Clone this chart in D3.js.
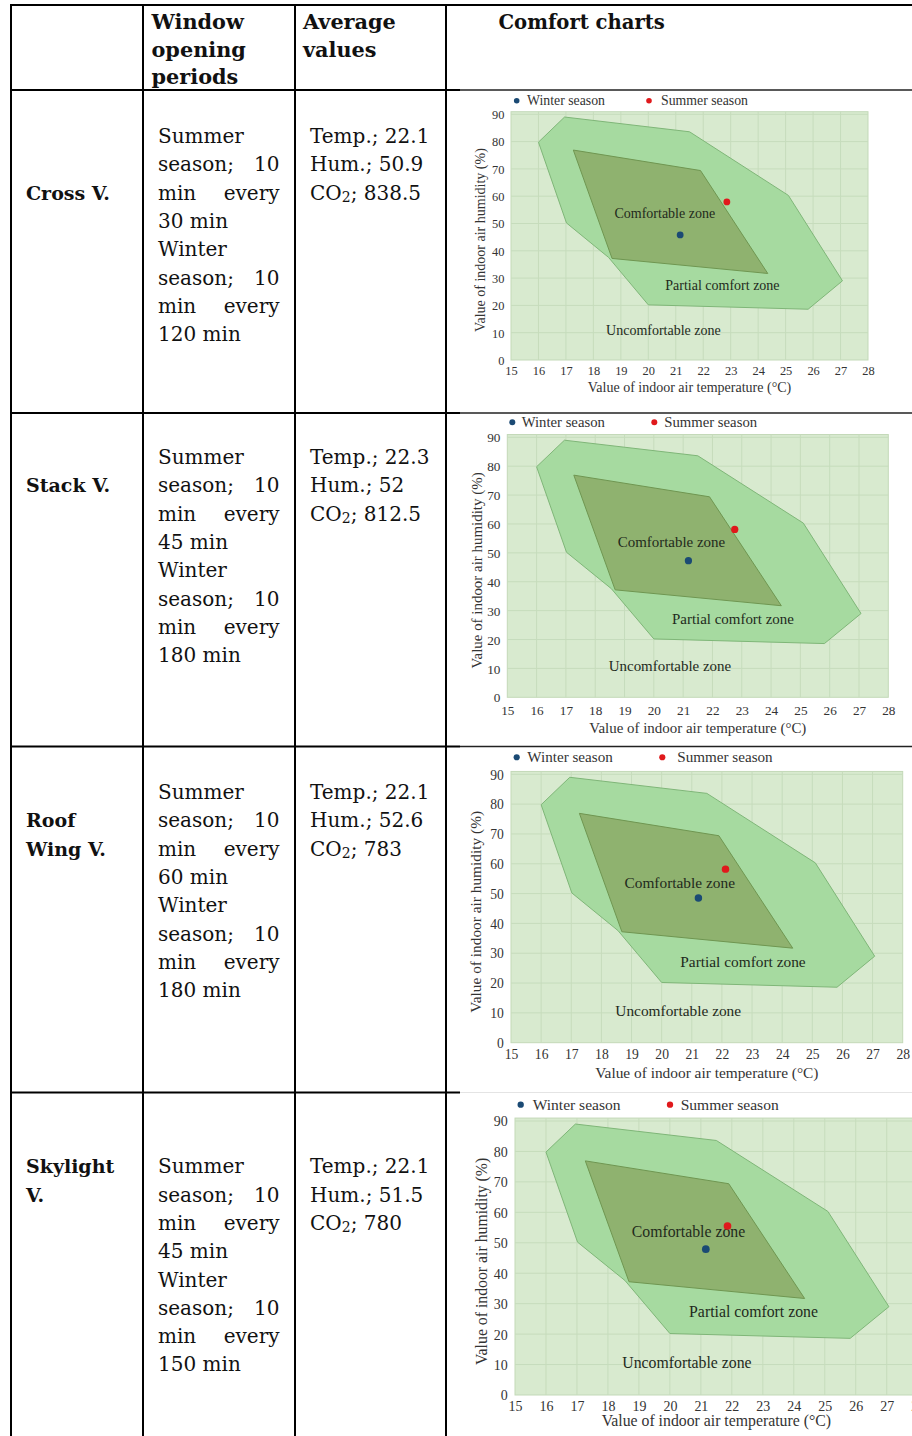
<!DOCTYPE html>
<html>
<head>
<meta charset="utf-8">
<script src="https://cdn.jsdelivr.net/npm/d3@7"></script>
<style>
  body { margin: 0; background: #fff; }
  svg { display: block; }
</style>
</head>
<body>
<svg id="page" width="912" height="1436"></svg>
<script>
// table content
const headers = [["Window", "opening", "periods"], ["Average", "values"], ["Comfort charts"]];
const systems = [["Cross V."], ["Stack V."], ["Roof", "Wing V."], ["Skylight", "V."]];
const openMinutes = [10, 10, 10, 10];
const summerEvery = [30, 45, 60, 45];
const winterEvery = [120, 180, 180, 150];
const avgTemp = ["22.1", "22.3", "22.1", "22.1"];
const avgHum = ["50.9", "52", "52.6", "51.5"];
const avgCO2 = ["838.5", "812.5", "783", "780"];

// comfort chart content (temperature °C, humidity %)
const winterPoints = [[21.16, 45.8], [21.18, 47.3], [21.22, 48.5], [21.16, 47.9]];
const summerPoints = [[22.86, 57.9], [22.76, 58.1], [22.12, 58.2], [21.86, 55.5]];
const partialZone = [[16, 79.8], [16.95, 89], [21.5, 83.6], [25.1, 60.3], [27.07, 29], [25.82, 18.6], [20, 20.2], [18.55, 37.6], [17.02, 50.2]];
const comfortZone = [[17.27, 76.9], [21.9, 69.4], [24.35, 31.7], [18.68, 37.2]];
const zoneLabels = ["Comfortable zone", "Partial comfort zone", "Uncomfortable zone"];
const zoneLabelAt = [[20.6, 52], [22.7, 25.5], [20.55, 9]];
const xTicks = [15, 16, 17, 18, 19, 20, 21, 22, 23, 24, 25, 26, 27, 28];
const yTicks = [0, 10, 20, 30, 40, 50, 60, 70, 80, 90];

const svg = d3.select('#page');
const tableFont = '"DejaVu Serif", serif';
const chartFont = '"Liberation Serif", "Times New Roman", serif';

// ---------- table grid ----------
const colX = [11, 143, 295, 446];
const rowY = [5, 90, 413, 746.5, 1092.5];
const lineH = 28.3;

const grid = svg.append('g').attr('stroke', '#000');
colX.forEach(x => grid.append('line')
  .attr('x1', x).attr('x2', x).attr('y1', 4).attr('y2', 1436)
  .attr('stroke-width', 2));
rowY.forEach((y, i) => {
  grid.append('line')
    .attr('x1', 10).attr('x2', i === 0 ? 912 : 460).attr('y1', y).attr('y2', y)
    .attr('stroke-width', 2);
  if (i > 0) {
    grid.append('line')
      .attr('x1', 460).attr('x2', 912).attr('y1', y).attr('y2', y)
      .attr('stroke', i === 4 ? '#e4e4e4' : '#222')
      .attr('stroke-width', i === 4 ? 1 : 1.3);
  }
});

// ---------- header ----------
const headX = [151.5, 303, 498.5];
const headSize = [20.8, 20.8, 19.6];
headers.forEach((lines, c) => {
  lines.forEach((t, j) => {
    svg.append('text')
      .attr('x', headX[c]).attr('y', 29 + j * 27.5)
      .attr('font-family', tableFont).attr('font-weight', 'bold')
      .attr('font-size', headSize[c]).attr('fill', '#111')
      .text(t);
  });
});

// ---------- body rows ----------
const firstBase = [143, 464, 799, 1173.3];
const labelLine = [2, 1, 1, 0];
const c2Left = 158, c2Right = 279.5, c3Left = 310;

systems.forEach((lines, r) => {
  lines.forEach((t, j) => {
    svg.append('text')
      .attr('x', 26).attr('y', firstBase[r] + (labelLine[r] + j) * lineH)
      .attr('font-family', tableFont).attr('font-weight', 'bold')
      .attr('font-size', 19).attr('fill', '#111')
      .text(t);
  });

  const periodLines = [
    ['Summer'], ['season;', String(openMinutes[r])], ['min', 'every'], [summerEvery[r] + ' min'],
    ['Winter'], ['season;', String(openMinutes[r])], ['min', 'every'], [winterEvery[r] + ' min']
  ];
  periodLines.forEach((words, j) => {
    const y = firstBase[r] + j * lineH;
    svg.append('text')
      .attr('x', c2Left).attr('y', y)
      .attr('font-family', tableFont).attr('font-size', 20).attr('fill', '#111')
      .text(words[0]);
    if (words.length > 1) {
      svg.append('text')
        .attr('x', c2Right).attr('y', y).attr('text-anchor', 'end')
        .attr('font-family', tableFont).attr('font-size', 20).attr('fill', '#111')
        .text(words[1]);
    }
  });

  const avg = svg.append('g')
    .attr('font-family', tableFont).attr('font-size', 20).attr('fill', '#111');
  avg.append('text').attr('x', c3Left).attr('y', firstBase[r]).text('Temp.; ' + avgTemp[r]);
  avg.append('text').attr('x', c3Left).attr('y', firstBase[r] + lineH).text('Hum.; ' + avgHum[r]);
  const co = avg.append('text').attr('x', c3Left).attr('y', firstBase[r] + 2 * lineH);
  co.append('tspan').text('CO');
  co.append('tspan').attr('font-size', 14).attr('dy', 2).text('2');
  co.append('tspan').attr('dy', -2).text('; ' + avgCO2[r]);
});

// ---------- comfort charts ----------
const frames = [
  { x0: 511, x1: 868, yTop: 114.3, yBot: 360, legY: 100.7, wDot: 516.7, wText: 527, sDot: 649, sText: 661, tickDy: 15, titleDy: 31.7, yTitleX: 480 },
  { x0: 507.3, x1: 888.3, yTop: 437.3, yBot: 697.3, legY: 422.3, wDot: 512.3, wText: 521.7, sDot: 654.3, sText: 664.3, tickDy: 17.7, titleDy: 36, yTitleX: 476.7 },
  { x0: 511, x1: 902.7, yTop: 774.3, yBot: 1042.7, legY: 757.3, wDot: 516.7, wText: 527.3, sDot: 662.3, sText: 677.3, tickDy: 16.7, titleDy: 35.7, yTitleX: 475 },
  { x0: 515, x1: 917.7, yTop: 1121, yBot: 1395, legY: 1104.7, wDot: 520.7, wText: 532.7, sDot: 670, sText: 680.7, tickDy: 16, titleDy: 30.5, yTitleX: 481.7 }
];

frames.forEach((f, i) => {
  const s = (f.x1 - f.x0) / 357;
  const x = d3.scaleLinear().domain([15, 28]).range([f.x0, f.x1]);
  const y = d3.scaleLinear().domain([0, 90]).range([f.yBot, f.yTop]);
  const g = svg.append('g').attr('font-family', chartFont);

  // plot background
  g.append('rect')
    .attr('x', x(15)).attr('y', y(90) - 2.6 * s)
    .attr('width', x(28) - x(15)).attr('height', y(0) - y(90) + 2.6 * s)
    .attr('fill', '#d8eacf').attr('stroke', '#c3d9b8').attr('stroke-width', 1);

  // gridlines
  g.append('g').selectAll('line').data(xTicks.slice(1, -1)).join('line')
    .attr('x1', d => x(d)).attr('x2', d => x(d))
    .attr('y1', y(90) - 2.6 * s).attr('y2', y(0))
    .attr('stroke', '#c6dcbc').attr('stroke-width', 1);
  g.append('g').selectAll('line').data(yTicks.slice(1)).join('line')
    .attr('x1', x(15)).attr('x2', x(28))
    .attr('y1', d => y(d)).attr('y2', d => y(d))
    .attr('stroke', '#c6dcbc').attr('stroke-width', 1);

  const area = d3.line().x(d => x(d[0])).y(d => y(d[1])).curve(d3.curveLinearClosed);
  g.append('path').attr('d', area(partialZone))
    .attr('fill', '#a6daa0').attr('stroke', '#7fb678').attr('stroke-width', 1);
  g.append('path').attr('d', area(comfortZone))
    .attr('fill', '#8fb26f').attr('stroke', '#6f9651').attr('stroke-width', 1);

  // zone labels
  g.append('g').selectAll('text').data(zoneLabels).join('text')
    .attr('x', (d, k) => x(zoneLabelAt[k][0]))
    .attr('y', (d, k) => y(zoneLabelAt[k][1]))
    .attr('text-anchor', 'middle')
    .attr('font-size', 14 * s).attr('fill', '#1f2a1c')
    .text(d => d);

  // points
  g.append('circle').attr('cx', x(winterPoints[i][0])).attr('cy', y(winterPoints[i][1]))
    .attr('r', 3.4 * s).attr('fill', '#1b4a74');
  g.append('circle').attr('cx', x(summerPoints[i][0])).attr('cy', y(summerPoints[i][1]))
    .attr('r', 3.4 * s).attr('fill', '#e0191c');

  // axes (labels only)
  const xAxis = d3.axisBottom(x).tickValues(xTicks).tickSize(0).tickPadding(0);
  const xg = g.append('g').attr('transform', `translate(0,${f.yBot + f.tickDy})`).call(xAxis);
  const yAxis = d3.axisLeft(y).tickValues(yTicks).tickSize(0).tickPadding(6.5 * s);
  const yg = g.append('g').attr('transform', `translate(${f.x0},0)`).call(yAxis);
  [xg, yg].forEach(a => {
    a.select('.domain').remove();
    a.selectAll('text').attr('font-family', chartFont).attr('font-size', 12.4 * s).attr('fill', '#333');
  });
  xg.selectAll('text').attr('dy', 0).attr('y', 0);
  yg.selectAll('text').attr('dy', '0.35em');

  g.append('text')
    .attr('x', x(21.5))
    .attr('y', f.yBot + f.titleDy)
    .attr('text-anchor', 'middle').attr('font-size', 14 * s).attr('fill', '#333')
    .text('Value of indoor air temperature (°C)');
  g.append('text')
    .attr('transform', `translate(${f.yTitleX},${(f.yTop + f.yBot) / 2 + 3 * s}) rotate(-90)`)
    .attr('text-anchor', 'middle').attr('dominant-baseline', 'central')
    .attr('font-size', 14 * s).attr('fill', '#333')
    .text('Value of indoor air humidity (%)');

  // legend
  g.append('circle').attr('cx', f.wDot).attr('cy', f.legY).attr('r', 2.8 * s).attr('fill', '#1b4a74');
  g.append('text').attr('x', f.wText).attr('y', f.legY).attr('dominant-baseline', 'central')
    .attr('font-size', 13.8 * s).attr('fill', '#333').text('Winter season');
  g.append('circle').attr('cx', f.sDot).attr('cy', f.legY).attr('r', 2.8 * s).attr('fill', '#e0191c');
  g.append('text').attr('x', f.sText).attr('y', f.legY).attr('dominant-baseline', 'central')
    .attr('font-size', 13.8 * s).attr('fill', '#333').text('Summer season');
});
</script>
</body>
</html>
